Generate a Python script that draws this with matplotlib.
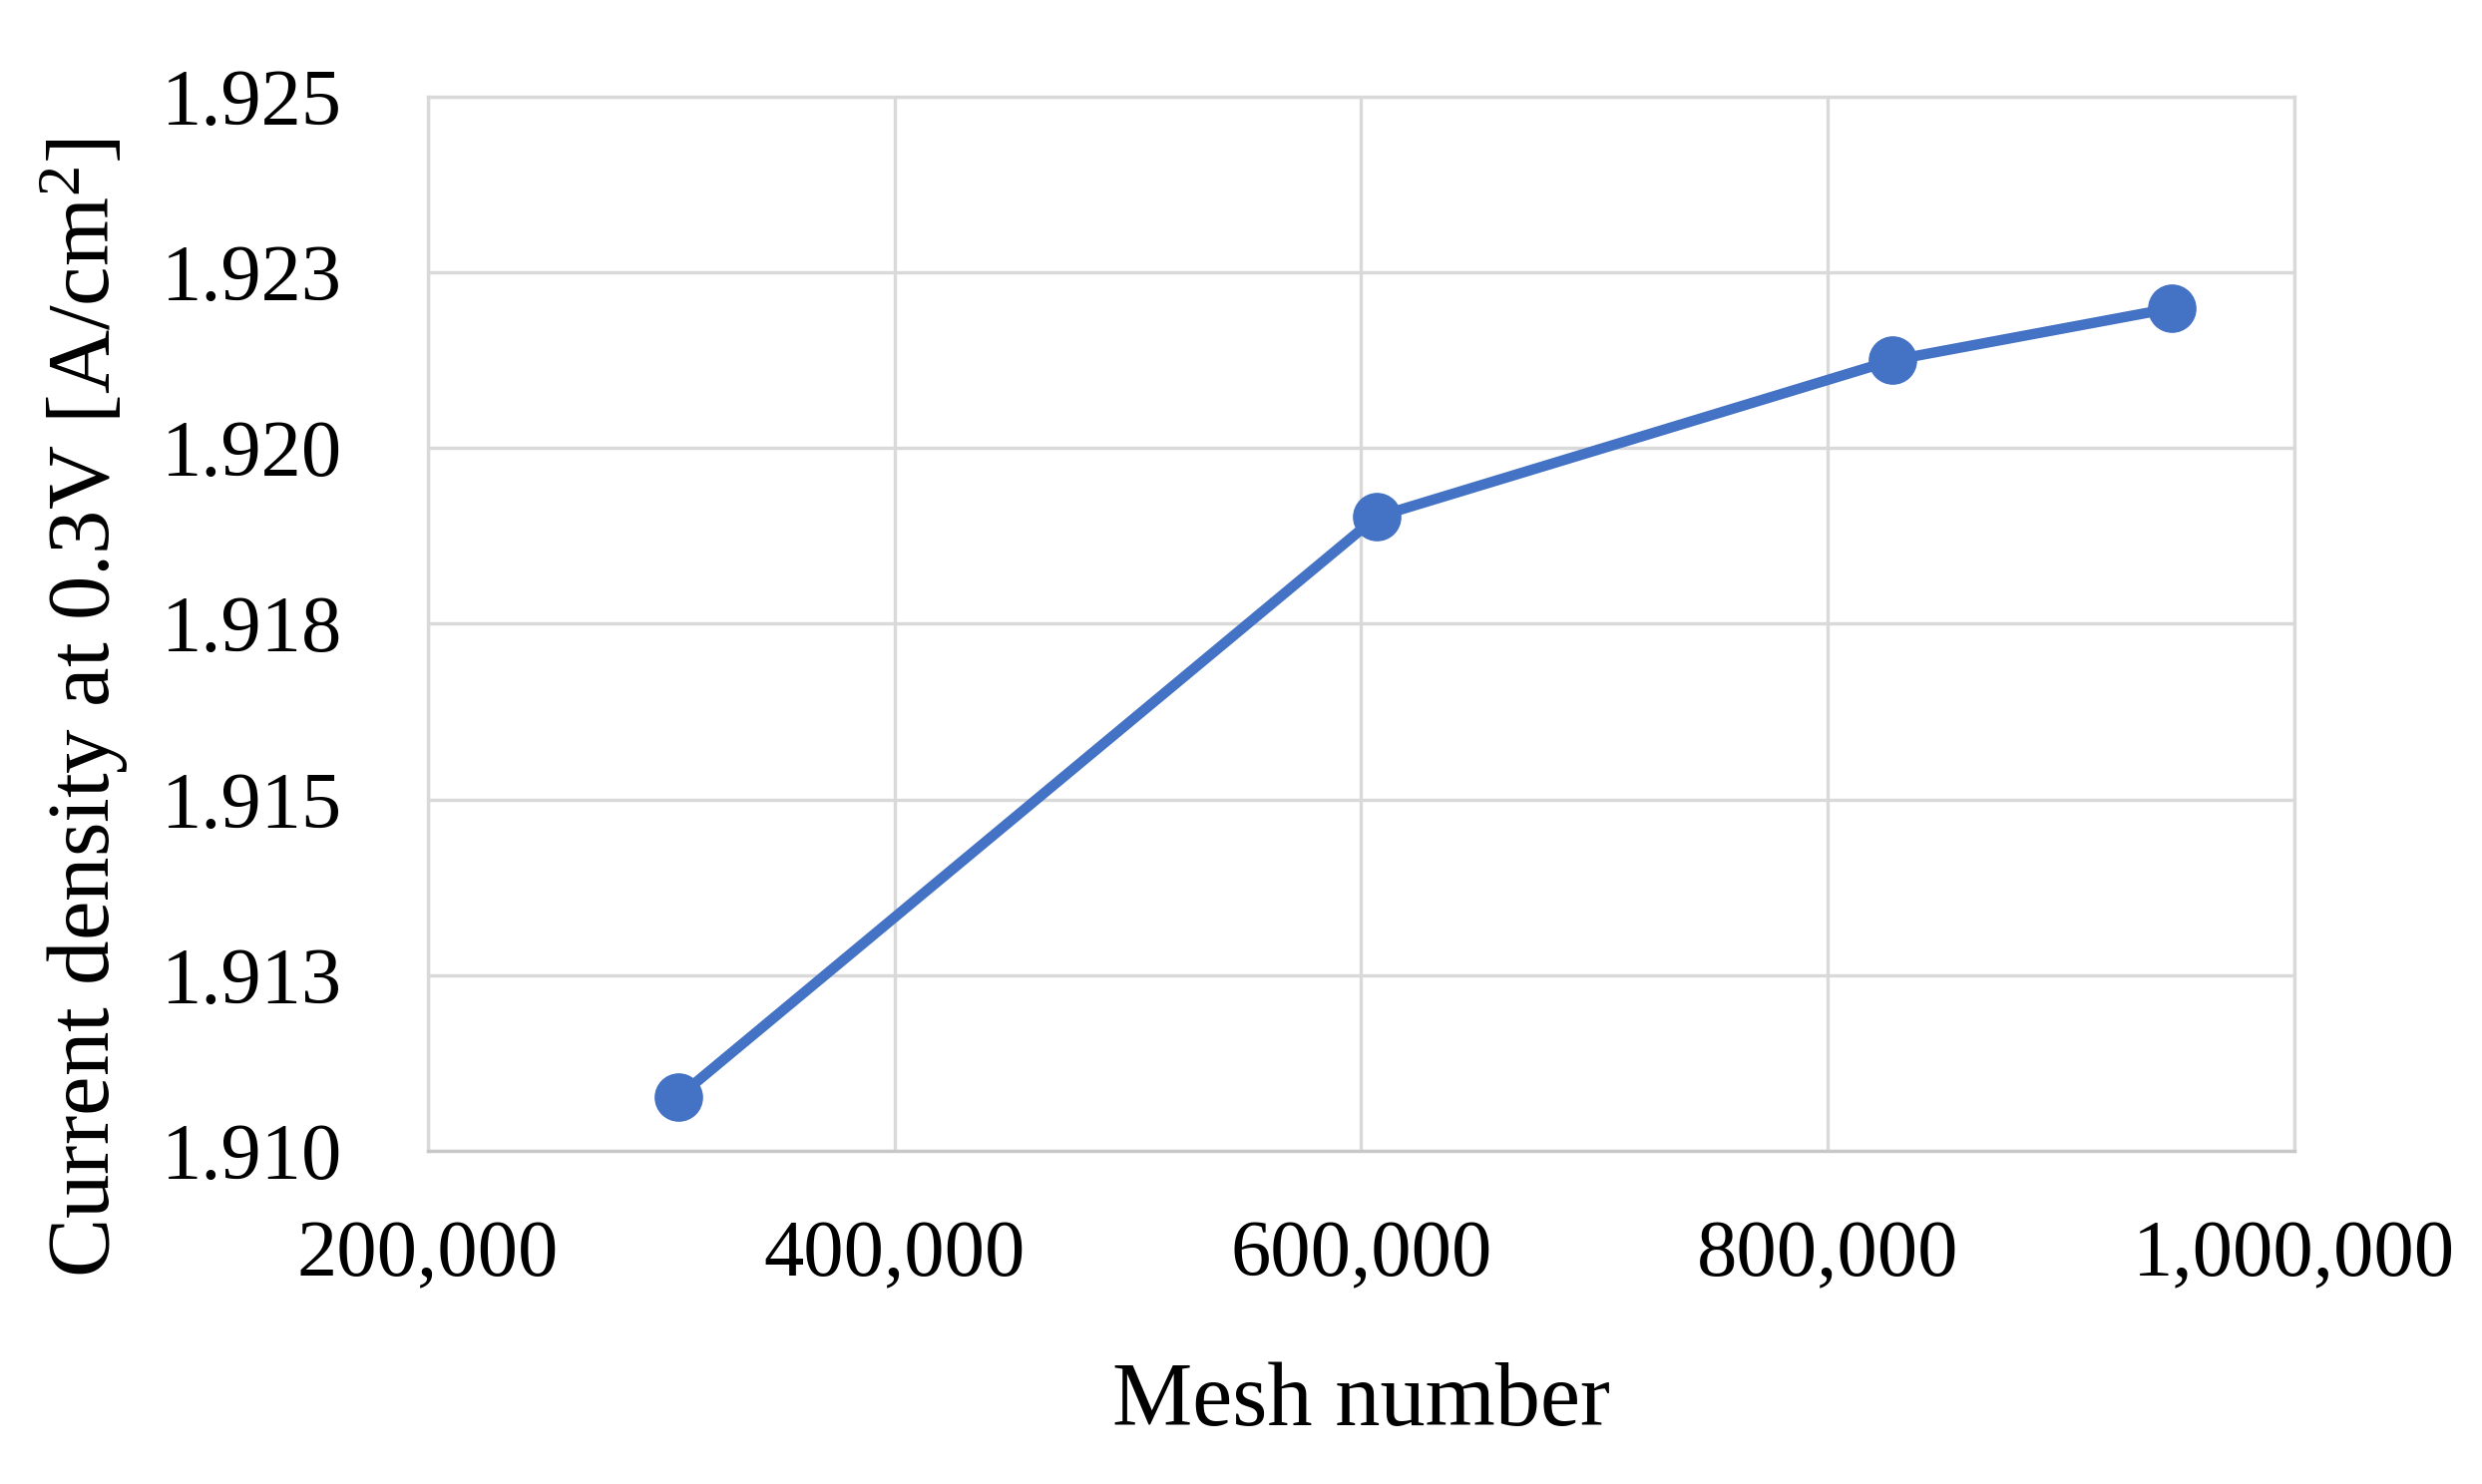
"""
Mesh independence check: current density at 0.3 V vs mesh number.
"""

import matplotlib

matplotlib.use("Agg")
import matplotlib.pyplot as plt
from matplotlib.ticker import FuncFormatter

plt.rcParams["font.family"] = ["Liberation Serif", "DejaVu Serif"]
plt.rcParams["mathtext.fontset"] = "custom"
plt.rcParams["mathtext.rm"] = "Liberation Serif"
plt.rcParams["mathtext.it"] = "Liberation Serif:italic"

# data
mesh_number = [307500, 606500, 827700, 947400]
current_density = [1.91077, 1.91902, 1.92125, 1.92199]

x_ticks = [200000, 400000, 600000, 800000, 1000000]
y_ticks = [1.910, 1.9125, 1.915, 1.9175, 1.920, 1.9225, 1.925]
y_tick_labels = ["1.910", "1.913", "1.915", "1.918", "1.920", "1.923", "1.925"]

LINE_COLOR = "#4472C4"
GRID_COLOR = "#d9d9d9"

fig = plt.figure(figsize=(24.88, 14.88), dpi=100)
ax = fig.add_axes([0.1724, 0.2245, 0.752, 0.7103])

ax.plot(mesh_number, current_density, "o-", color=LINE_COLOR,
        linewidth=7.5, markersize=34, zorder=3)

ax.set_xlim(x_ticks[0], x_ticks[-1])
ax.set_ylim(y_ticks[0], y_ticks[-1])
ax.set_xticks(x_ticks)
ax.xaxis.set_major_formatter(FuncFormatter(lambda v, _: f"{int(v):,}"))
ax.set_yticks(y_ticks)
ax.set_yticklabels(y_tick_labels)

ax.tick_params(axis="both", length=0, labelsize=58, colors="black")
ax.tick_params(axis="x", pad=50)
ax.tick_params(axis="y", pad=62)

ax.grid(True, color=GRID_COLOR, linewidth=2.4)
ax.set_axisbelow(True)
for spine in ax.spines.values():
    spine.set_color(GRID_COLOR)
    spine.set_linewidth(2.4)
ax.spines["bottom"].set_color("#c8c8c8")

ax.set_xlabel("Mesh number", fontsize=65)
ax.set_ylabel(r"Current density at 0.3V [A/cm$^{2}$]", fontsize=64)
ax.xaxis.set_label_coords(0.5, -0.2)
ax.yaxis.set_label_coords(-0.16, 0.42)

fig.savefig("out.png", dpi=100, facecolor="white")
plt.close(fig)
